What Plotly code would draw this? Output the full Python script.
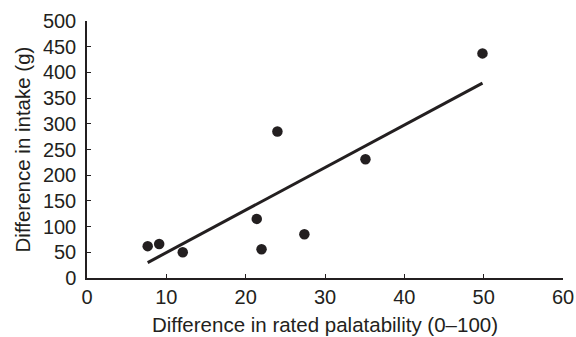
import plotly.graph_objects as go

palatability_diff = [7.65, 9.1, 12.07, 21.4, 22.0, 24.0, 27.4, 35.1, 49.85]
intake_diff = [62, 66, 50, 115, 56, 285, 85, 231, 437]

fit_x = [7.65, 49.85]
fit_y = [30, 379]

x_ticks = [0, 10, 20, 30, 40, 50, 60]
y_ticks = [0, 50, 100, 150, 200, 250, 300, 350, 400, 450, 500]

ink = "#231f20"
fig = go.Figure()
fig.add_trace(go.Scatter(x=fit_x, y=fit_y, mode="lines",
                         line=dict(color=ink, width=3), showlegend=False))
fig.add_trace(go.Scatter(x=palatability_diff, y=intake_diff, mode="markers",
                         marker=dict(color=ink, size=10.5, line=dict(width=0)),
                         showlegend=False))

family = "Liberation Sans, Arial, sans-serif"
tickfont = dict(family=family, size=20, color=ink)
titlefont = dict(family=family, size=20.5, color=ink)
fig.update_layout(
    width=576, height=337,
    margin=dict(l=87, r=13, t=21, b=59),
    paper_bgcolor="white", plot_bgcolor="white",
    font=dict(family=family, color=ink),
    xaxis=dict(range=[0, 60], tickvals=x_ticks, ticks="inside", ticklen=4,
               tickcolor=ink, showline=True, linecolor=ink, linewidth=1.5,
               showgrid=False, zeroline=False, automargin=False,
               tickfont=tickfont,
               title=dict(text="Difference in rated palatability (0–100)",
                          font=titlefont, standoff=11)),
    yaxis=dict(range=[0, 500], tickvals=y_ticks, ticks="inside", ticklen=4,
               tickcolor=ink, showline=True, linecolor=ink, linewidth=1.5,
               showgrid=False, zeroline=False, automargin=False,
               tickfont=tickfont, ticklabelstandoff=5,
               title=dict(text="Difference in intake (g)",
                          font=titlefont, standoff=7)),
)
fig.write_html(
    "out.html",
    config={"displayModeBar": False},
    post_script="document.body.style.margin='0';document.body.style.overflow='hidden';",
)
